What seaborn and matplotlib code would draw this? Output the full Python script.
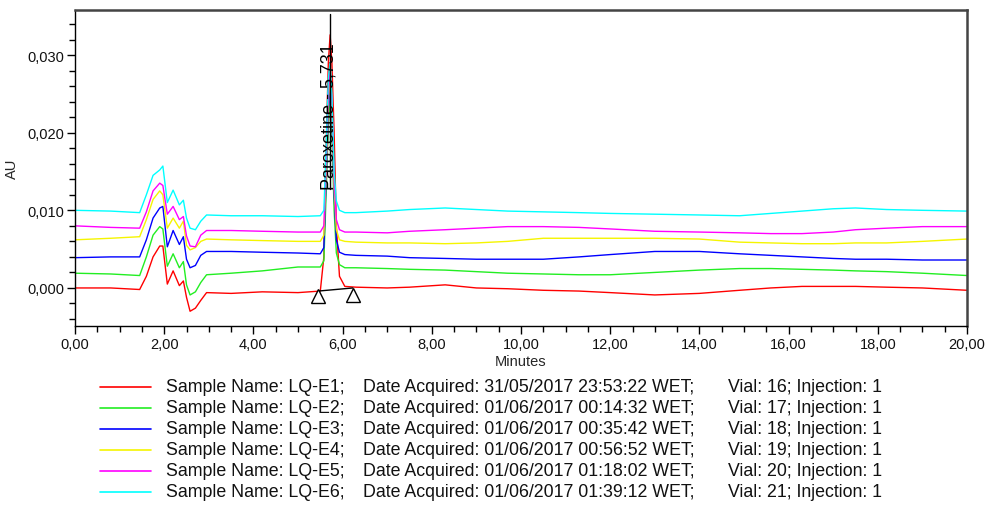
import numpy as np
import pandas as pd
import matplotlib
matplotlib.use("Agg")
import matplotlib.pyplot as plt
import seaborn as sns
from matplotlib.ticker import FuncFormatter, MultipleLocator
from matplotlib.lines import Line2D

# ---------------- data ----------------
minutes = [0.0, 0.8, 1.45, 1.6, 1.75, 1.9, 1.97, 2.07, 2.2, 2.34, 2.43, 2.5, 2.58, 2.7,
           2.82, 2.95, 3.5, 4.2, 5.0, 5.5, 5.58, 5.63, 5.68, 5.72, 5.76, 5.81, 5.86, 5.93,
           6.05, 6.3, 7.0, 7.5, 8.3, 9.0, 9.7, 10.5, 11.3, 12.0, 13.0, 14.0, 14.9, 15.6,
           16.3, 17.0, 17.5, 18.2, 19.0, 20.0]

au_e1 = [0.0000, 0.0000, -0.0002, 0.0015, 0.0040, 0.0054, 0.0054, 0.0005, 0.0022, 0.0003,
         0.0009, -0.0012, -0.0030, -0.0026, -0.0016, -0.0006, -0.0007, -0.0005, -0.0006,
         -0.0004, 0.0040, 0.0180, 0.0290, 0.0326, 0.0290, 0.0200, 0.0080, 0.0015, 0.0002,
         0.0001, 0.0000, 0.0001, 0.0004, 0.0000, -0.0001, -0.0003, -0.0004, -0.0006,
         -0.0009, -0.0007, -0.0003, 0.0000, 0.0002, 0.0002, 0.0002, 0.0001, 0.0000, -0.0003]
au_e2 = [0.0019, 0.0018, 0.0016, 0.0040, 0.0068, 0.0079, 0.0076, 0.0028, 0.0044, 0.0026,
         0.0034, 0.0004, -0.0009, -0.0005, 0.0007, 0.0017, 0.0019, 0.0022, 0.0027, 0.0027,
         0.0035, 0.0120, 0.0210, 0.0240, 0.0200, 0.0100, 0.0045, 0.0030, 0.0026, 0.0026,
         0.0025, 0.0024, 0.0023, 0.0021, 0.0019, 0.0018, 0.0017, 0.0017, 0.0020, 0.0023,
         0.0025, 0.0025, 0.0024, 0.0023, 0.0022, 0.0021, 0.0019, 0.0016]
au_e3 = [0.0039, 0.0040, 0.0040, 0.0062, 0.0090, 0.0103, 0.0105, 0.0053, 0.0074, 0.0056,
         0.0066, 0.0037, 0.0026, 0.0029, 0.0042, 0.0047, 0.0047, 0.0046, 0.0045, 0.0044,
         0.0052, 0.0140, 0.0230, 0.0260, 0.0220, 0.0120, 0.0062, 0.0046, 0.0043, 0.0042,
         0.0041, 0.0039, 0.0038, 0.0037, 0.0037, 0.0037, 0.0040, 0.0043, 0.0047, 0.0047,
         0.0044, 0.0042, 0.0040, 0.0038, 0.0037, 0.0037, 0.0036, 0.0036]
au_e4 = [0.0062, 0.0064, 0.0066, 0.0088, 0.0114, 0.0125, 0.0120, 0.0077, 0.0090, 0.0077,
         0.0086, 0.0055, 0.0049, 0.0052, 0.0060, 0.0063, 0.0062, 0.0061, 0.0060, 0.0060,
         0.0068, 0.0150, 0.0240, 0.0270, 0.0230, 0.0130, 0.0075, 0.0062, 0.0060, 0.0059,
         0.0058, 0.0058, 0.0057, 0.0058, 0.0060, 0.0064, 0.0064, 0.0064, 0.0064, 0.0063,
         0.0059, 0.0058, 0.0057, 0.0057, 0.0058, 0.0058, 0.0060, 0.0063]
au_e5 = [0.0080, 0.0078, 0.0077, 0.0098, 0.0125, 0.0135, 0.0132, 0.0095, 0.0105, 0.0088,
         0.0092, 0.0067, 0.0054, 0.0053, 0.0068, 0.0074, 0.0074, 0.0073, 0.0072, 0.0072,
         0.0080, 0.0160, 0.0250, 0.0280, 0.0240, 0.0140, 0.0088, 0.0075, 0.0072, 0.0072,
         0.0071, 0.0073, 0.0075, 0.0077, 0.0079, 0.0079, 0.0078, 0.0076, 0.0073, 0.0072,
         0.0071, 0.0070, 0.0070, 0.0072, 0.0075, 0.0077, 0.0079, 0.0079]
au_e6 = [0.0100, 0.0099, 0.0097, 0.0120, 0.0145, 0.0152, 0.0157, 0.0110, 0.0126, 0.0107,
         0.0113, 0.0090, 0.0077, 0.0075, 0.0086, 0.0094, 0.0093, 0.0093, 0.0092, 0.0093,
         0.0100, 0.0180, 0.0270, 0.0290, 0.0250, 0.0150, 0.0112, 0.0100, 0.0097, 0.0097,
         0.0099, 0.0101, 0.0103, 0.0101, 0.0099, 0.0098, 0.0097, 0.0096, 0.0095, 0.0094,
         0.0093, 0.0096, 0.0099, 0.0102, 0.0103, 0.0101, 0.0100, 0.0099]

sample_names = ["LQ-E1", "LQ-E2", "LQ-E3", "LQ-E4", "LQ-E5", "LQ-E6"]
dates = ["31/05/2017 23:53:22 WET", "01/06/2017 00:14:32 WET", "01/06/2017 00:35:42 WET",
         "01/06/2017 00:56:52 WET", "01/06/2017 01:18:02 WET", "01/06/2017 01:39:12 WET"]
vials = [16, 17, 18, 19, 20, 21]
colors = ["#ff0000", "#22ee22", "#0000ff", "#f5f500", "#ff00ff", "#00ffff"]

peak_name = "Paroxetine - 5,731"
peak_rt = 5.72
peak_top = 0.0353
peak_label_base = 0.0128
base_start = (5.455, -0.0004)
base_end = (6.23, 0.0)

# ---------------- build long table ----------------
series = [au_e1, au_e2, au_e3, au_e4, au_e5, au_e6]
frames = []
for name, vals in zip(sample_names, series):
    frames.append(pd.DataFrame({"Minutes": minutes, "AU": vals, "Sample": name}))
df = pd.concat(frames, ignore_index=True)

# ---------------- figure ----------------
sns.set_style("ticks")
plt.rcParams["font.family"] = ["Liberation Sans", "DejaVu Sans"]

fig = plt.figure(figsize=(9.85, 5.06), dpi=100)
ax = fig.add_axes([75 / 985, 1 - 327 / 506, (967 - 75) / 985, (327 - 11) / 506])

sns.lineplot(data=df, x="Minutes", y="AU", hue="Sample", hue_order=sample_names,
             palette=colors, sort=False, estimator=None, legend=False,
             linewidth=1.0, ax=ax)

ax.set_xlim(0, 20)
ax.set_ylim(-0.0049, 0.0358)

ax.xaxis.set_major_locator(MultipleLocator(2))
ax.xaxis.set_minor_locator(MultipleLocator(0.5))
ax.yaxis.set_major_locator(MultipleLocator(0.01))
ax.yaxis.set_minor_locator(MultipleLocator(0.002))
ax.xaxis.set_major_formatter(FuncFormatter(lambda v, p: f"{v:.2f}".replace(".", ",")))
ax.yaxis.set_major_formatter(FuncFormatter(lambda v, p: f"{v:.3f}".replace(".", ",")))
ax.tick_params(axis="both", which="major", length=6, width=1, labelsize=10.5,
               color="black", labelcolor="#111111", direction="out", pad=2)
ax.tick_params(axis="both", which="minor", length=4, width=1, color="black", direction="out")

for s in ["left", "bottom"]:
    ax.spines[s].set_color("black")
    ax.spines[s].set_linewidth(1)
for s in ["top", "right"]:
    ax.spines[s].set_visible(True)
    ax.spines[s].set_color("#444444")
    ax.spines[s].set_linewidth(1.8)

ax.set_xlabel("Minutes", fontsize=10.5, labelpad=2)
ax.set_ylabel("AU", fontsize=10.5, labelpad=6)

# peak annotation
ax.plot([peak_rt, peak_rt], [peak_label_base, peak_top], color="black", lw=1, zorder=5)
ax.text(peak_rt - 0.03, peak_label_base, peak_name, rotation=90, ha="center", va="bottom",
        fontsize=13, color="black", zorder=6)
ax.plot([base_start[0], base_end[0]], [base_start[1], base_end[1]], color="black", lw=1, zorder=5)
ax.plot([base_start[0], base_end[0]], [base_start[1] - 0.0007, base_end[1] - 0.0009],
        linestyle="none", marker="^", markersize=10, markerfacecolor="white",
        markeredgecolor="black", markeredgewidth=1, zorder=6)

# legend (custom, three aligned columns)
row_y = [388, 409, 430, 451, 472, 493]
for i in range(6):
    yf = 1 - row_y[i] / 506
    fig.add_artist(Line2D([100 / 985, 151 / 985], [yf, yf], color=colors[i], lw=1.2,
                          transform=fig.transFigure))
    kw = dict(fontsize=12.8, va="center", ha="left", color="#111111")
    fig.text(166 / 985, yf, f"Sample Name: {sample_names[i]};", **kw)
    fig.text(363 / 985, yf, f"Date Acquired: {dates[i]};", **kw)
    fig.text(728 / 985, yf, f"Vial: {vials[i]}; Injection: 1", **kw)

fig.savefig("out.png", dpi=100, facecolor="white")
